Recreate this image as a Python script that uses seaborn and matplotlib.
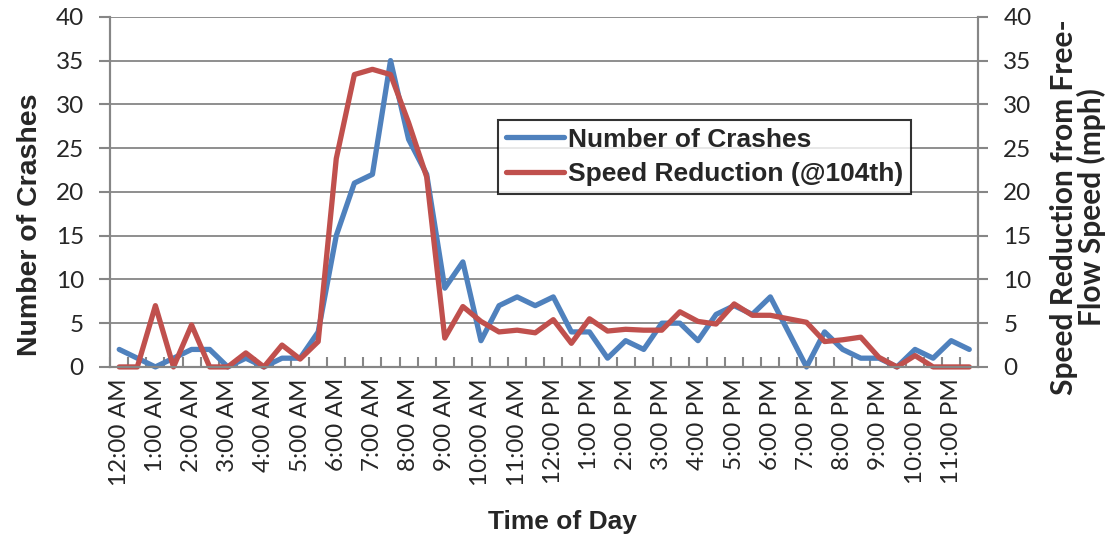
import numpy as np
import pandas as pd
import seaborn as sns
import matplotlib.pyplot as plt
from matplotlib.ticker import MultipleLocator, FixedLocator

# Hourly tick labels, data every half hour
hour_labels = ["12:00 AM", "1:00 AM", "2:00 AM", "3:00 AM", "4:00 AM", "5:00 AM",
               "6:00 AM", "7:00 AM", "8:00 AM", "9:00 AM", "10:00 AM", "11:00 AM",
               "12:00 PM", "1:00 PM", "2:00 PM", "3:00 PM", "4:00 PM", "5:00 PM",
               "6:00 PM", "7:00 PM", "8:00 PM", "9:00 PM", "10:00 PM", "11:00 PM"]

crashes = [2, 1, 0, 1, 2, 2, 0, 1, 0, 1, 1, 4,
           15, 21, 22, 35, 26, 22, 9, 12, 3, 7, 8, 7,
           8, 4, 4, 1, 3, 2, 5, 5, 3, 6, 7, 6,
           8, 4, 0, 4, 2, 1, 1, 0, 2, 1, 3, 2]

speed_reduction = [0, 0, 7.0, 0, 4.8, 0, 0, 1.6, 0, 2.5, 0.9, 2.9,
                   23.8, 33.4, 34.0, 33.4, 27.9, 21.7, 3.3, 6.9, 5.2, 4.0, 4.2, 3.9,
                   5.4, 2.7, 5.5, 4.1, 4.3, 4.2, 4.2, 6.3, 5.2, 4.9, 7.2, 5.9,
                   5.9, 5.5, 5.1, 2.9, 3.1, 3.4, 1.1, 0, 1.3, 0, 0, 0]

df = pd.DataFrame({"slot": np.arange(len(crashes)),
                   "crashes": crashes,
                   "speed": speed_reduction})

sns.set_style("white")
tick_font = "Lato"
bold_font = "Liberation Sans"
grid_col = "#868686"
blue = "#4F81BD"
red = "#C0504D"

fig, ax = plt.subplots(figsize=(11.13, 5.42), dpi=100)
fig.subplots_adjust(left=0.099, right=0.879, top=0.969, bottom=0.323)
ax2 = ax.twinx()

sns.lineplot(data=df, x="slot", y="crashes", ax=ax, color=blue, linewidth=3.8,
             label="Number of Crashes", legend=False, clip_on=False)
sns.lineplot(data=df, x="slot", y="speed", ax=ax2, color=red, linewidth=3.8,
             label="Speed Reduction (@104th)", legend=False, clip_on=False)

for a in (ax, ax2):
    a.set_ylim(0, 40)
    a.set_xlim(-0.5, len(crashes) - 0.5)
    a.yaxis.set_major_locator(MultipleLocator(5))
    a.spines["top"].set_visible(False)
    for s in ["left", "right", "bottom"]:
        a.spines[s].set_color(grid_col)
        a.spines[s].set_linewidth(1.5)

ax.yaxis.grid(True, color=grid_col, linewidth=1.3)
ax.set_axisbelow(True)

# x ticks: labels every hour, tick marks between half-hour slots
ax.xaxis.set_major_locator(FixedLocator(np.arange(0, len(crashes), 2)))
ax.set_xticklabels(hour_labels, rotation=90, fontfamily=tick_font, fontsize=17.5)
ax.tick_params(axis="x", which="major", length=0, pad=8)
ax.xaxis.set_minor_locator(FixedLocator(np.arange(-0.5, len(crashes), 1)))
ax.tick_params(axis="x", which="minor", direction="in", length=7, width=1.5,
               color=grid_col, bottom=True)

ax.tick_params(axis="y", direction="out", length=8, width=1.5, color=grid_col,
               labelsize=17.5, pad=11, left=True)
ax2.tick_params(axis="y", direction="out", length=7, width=1.5, color=grid_col,
                labelsize=17.5, pad=11, right=True)
for lab in ax.get_yticklabels() + ax2.get_yticklabels():
    lab.set_fontfamily(tick_font)

ax.set_xlabel("Time of Day", fontfamily=bold_font, fontweight="bold", fontsize=19,
              va="center")
ax.xaxis.set_label_coords(0.521, -0.443)
ax.set_ylabel("Number of Crashes", fontfamily=bold_font, fontweight="bold",
              fontsize=20.5, va="center")
ax.yaxis.set_label_coords(-0.092, 0.406)
ax2.set_ylabel("Speed Reduction from Free-\nFlow Speed (mph)", fontfamily=tick_font,
               fontweight="bold", fontsize=21.5, va="center", linespacing=0.95)
ax2.yaxis.set_label_coords(1.115, 0.457)

handles = ax.get_lines()[:1] + ax2.get_lines()[:1]
leg = ax2.legend(handles, [h.get_label() for h in handles],
                 loc="upper left", bbox_to_anchor=(0.447, 0.706),
                 frameon=True, fancybox=False, edgecolor="black",
                 handlelength=2.2, handletextpad=0.15, borderpad=0.3,
                 labelspacing=0.4, borderaxespad=0,
                 prop={"family": bold_font, "weight": "bold", "size": 19})
leg.get_frame().set_linewidth(1.5)

fig.savefig("out.png", dpi=100)
